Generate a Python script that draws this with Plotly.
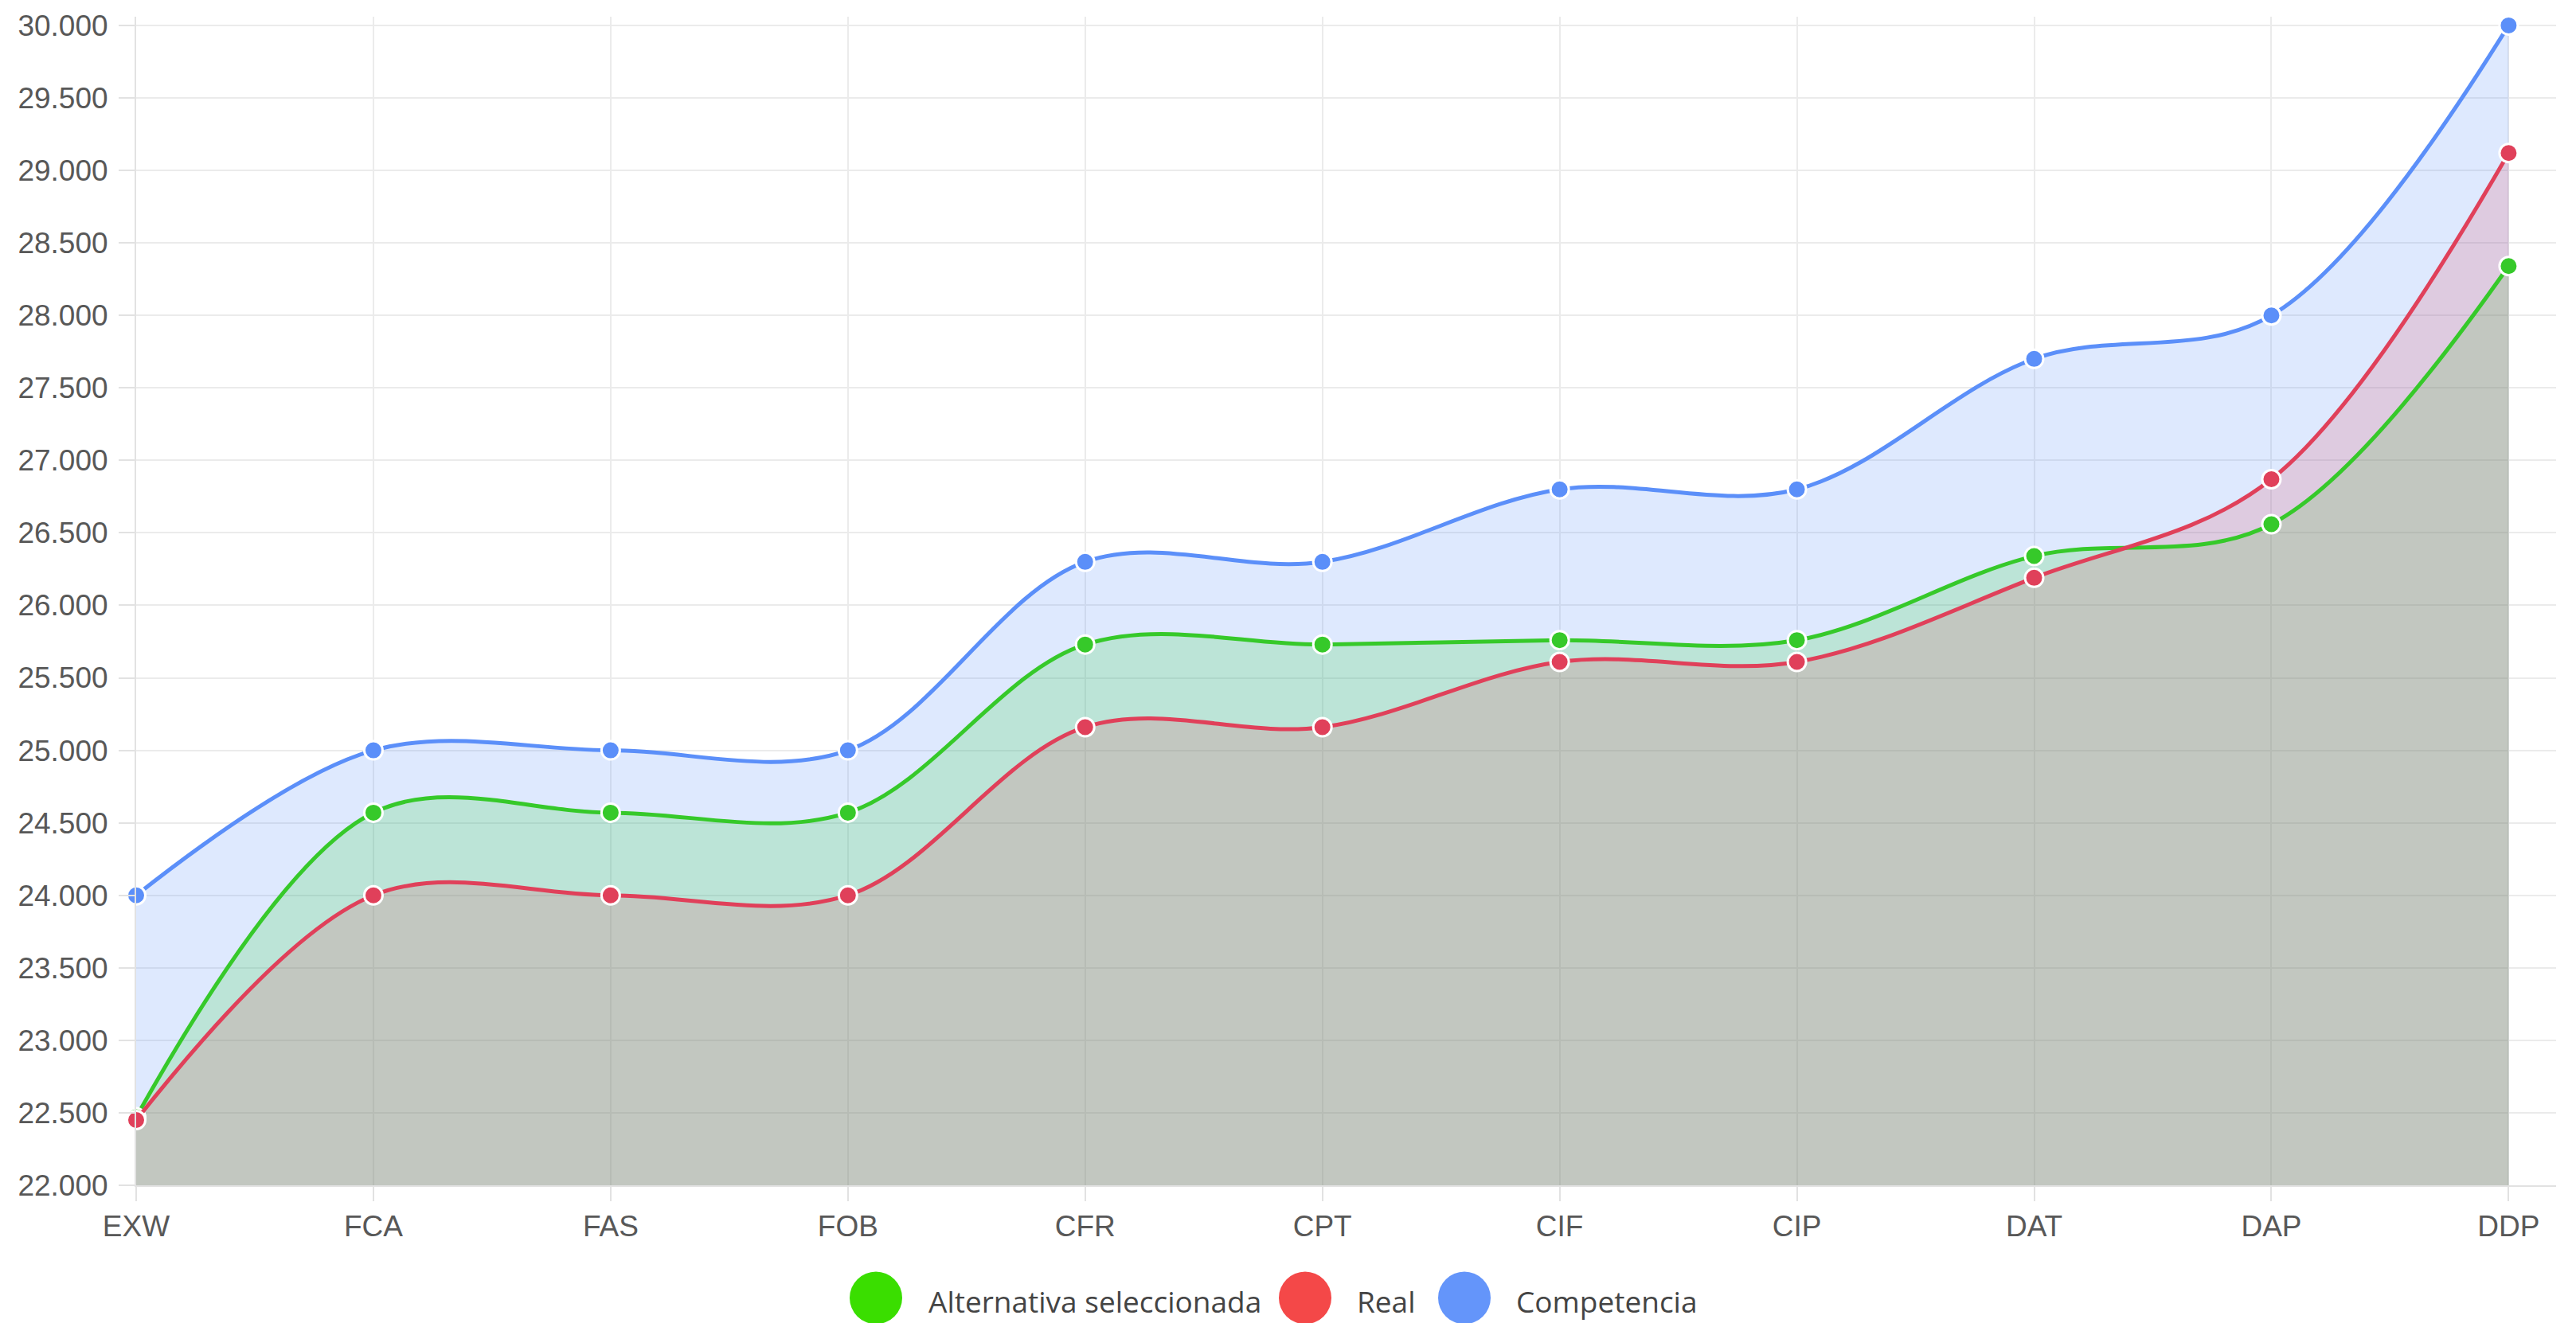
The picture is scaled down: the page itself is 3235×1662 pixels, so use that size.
import plotly.graph_objects as go

# Incoterm price comparison
categories = ["EXW", "FCA", "FAS", "FOB", "CFR", "CPT", "CIF", "CIP", "DAT", "DAP", "DDP"]
alternativa = [22470, 24570, 24570, 24570, 25730, 25730, 25760, 25760, 26340, 26560, 28340]
real = [22450, 24000, 24000, 24000, 25160, 25160, 25610, 25610, 26190, 26870, 29120]
competencia = [24000, 25000, 25000, 25000, 26300, 26300, 26800, 26800, 27700, 28000, 30000]

series_names = ["Alternativa seleccionada", "Real", "Competencia"]
tick_values = [22000, 22500, 23000, 23500, 24000, 24500, 25000, 25500,
               26000, 26500, 27000, 27500, 28000, 28500, 29000, 29500, 30000]

W, H = 3235, 1662
ML, MR, MT, MB = 171, 25, 15, 173
x_idx = list(range(len(categories)))

line_cols = {"Competencia": "#5b8ff9", "Alternativa seleccionada": "#36c92a", "Real": "#e0405a"}
fill_cols = {"Competencia": "rgba(91,143,249,0.2)",
             "Alternativa seleccionada": "rgba(55,212,60,0.2)",
             "Real": "rgba(224,64,90,0.18)"}
legend_cols = {"Alternativa seleccionada": "#3ade00", "Real": "#f44848", "Competencia": "#6495fa"}
data = {"Alternativa seleccionada": alternativa, "Real": real, "Competencia": competencia}

fig = go.Figure()
draw_order = ["Competencia", "Alternativa seleccionada", "Real"]

# area fills first, so no fill tints another series' line
for name in draw_order:
    fig.add_trace(go.Scatter(
        x=x_idx, y=data[name], mode="lines",
        line=dict(width=0, shape="spline", smoothing=1.0, color=line_cols[name]),
        fill="tozeroy", fillcolor=fill_cols[name],
        hoverinfo="skip", showlegend=False))

for name in draw_order:
    fig.add_trace(go.Scatter(
        x=x_idx, y=data[name], mode="lines+markers", name=name,
        line=dict(width=5, shape="spline", smoothing=1.0, color=line_cols[name]),
        marker=dict(size=23, color=line_cols[name], line=dict(width=3, color="white")),
        cliponaxis=False, showlegend=False))

# hand-drawn legend below the plot
plot_w = W - ML - MR
plot_h = H - MT - MB
def px_to_paper_x(px):
    return (px - ML) / plot_w
def py_to_paper_y(py):
    return (H - MB - py) / plot_h

legend_items = [("Alternativa seleccionada", 1100, 1164),
                ("Real", 1639, 1702),
                ("Competencia", 1839, 1902)]
cy = 1631
r = 33
shapes = []
annotations = []
for name, cx, tx in legend_items:
    shapes.append(dict(type="circle", xref="paper", yref="paper",
                       x0=px_to_paper_x(cx - r), x1=px_to_paper_x(cx + r),
                       y0=py_to_paper_y(cy + r), y1=py_to_paper_y(cy - r),
                       fillcolor=legend_cols[name], line=dict(width=0)))
    annotations.append(dict(text=name, xref="paper", yref="paper",
                            x=px_to_paper_x(tx), y=py_to_paper_y(cy + 4),
                            xanchor="left", yanchor="middle", showarrow=False,
                            font=dict(family="Open Sans", size=37, color="#444444")))

fig.update_layout(
    width=W, height=H,
    margin=dict(l=ML, r=MR, t=MT, b=MB, pad=0),
    paper_bgcolor="white", plot_bgcolor="white",
    separators=",.",
    showlegend=False,
    shapes=shapes, annotations=annotations,
    xaxis=dict(range=[0, 10.2], tickmode="array", tickvals=x_idx, ticktext=categories,
               showgrid=True, gridcolor="#ebebeb", gridwidth=2,
               showline=True, linecolor="#e2e2e2", linewidth=2,
               ticks="outside", ticklen=18, tickcolor="#e2e2e2", tickwidth=2,
               tickfont=dict(family="Liberation Sans", size=37, color="#585858"),
               zeroline=False, fixedrange=True),
    yaxis=dict(range=[22000, 30060], tickmode="array", tickvals=tick_values,
               tickformat=",d",
               showgrid=True, gridcolor="#ebebeb", gridwidth=2,
               showline=True, linecolor="#e2e2e2", linewidth=2,
               ticks="outside", ticklen=20, tickcolor="#e2e2e2", tickwidth=2,
               ticklabelstandoff=6,
               tickfont=dict(family="Liberation Sans", size=37, color="#585858"),
               zeroline=False, fixedrange=True),
)

fig.write_html("out.html")
